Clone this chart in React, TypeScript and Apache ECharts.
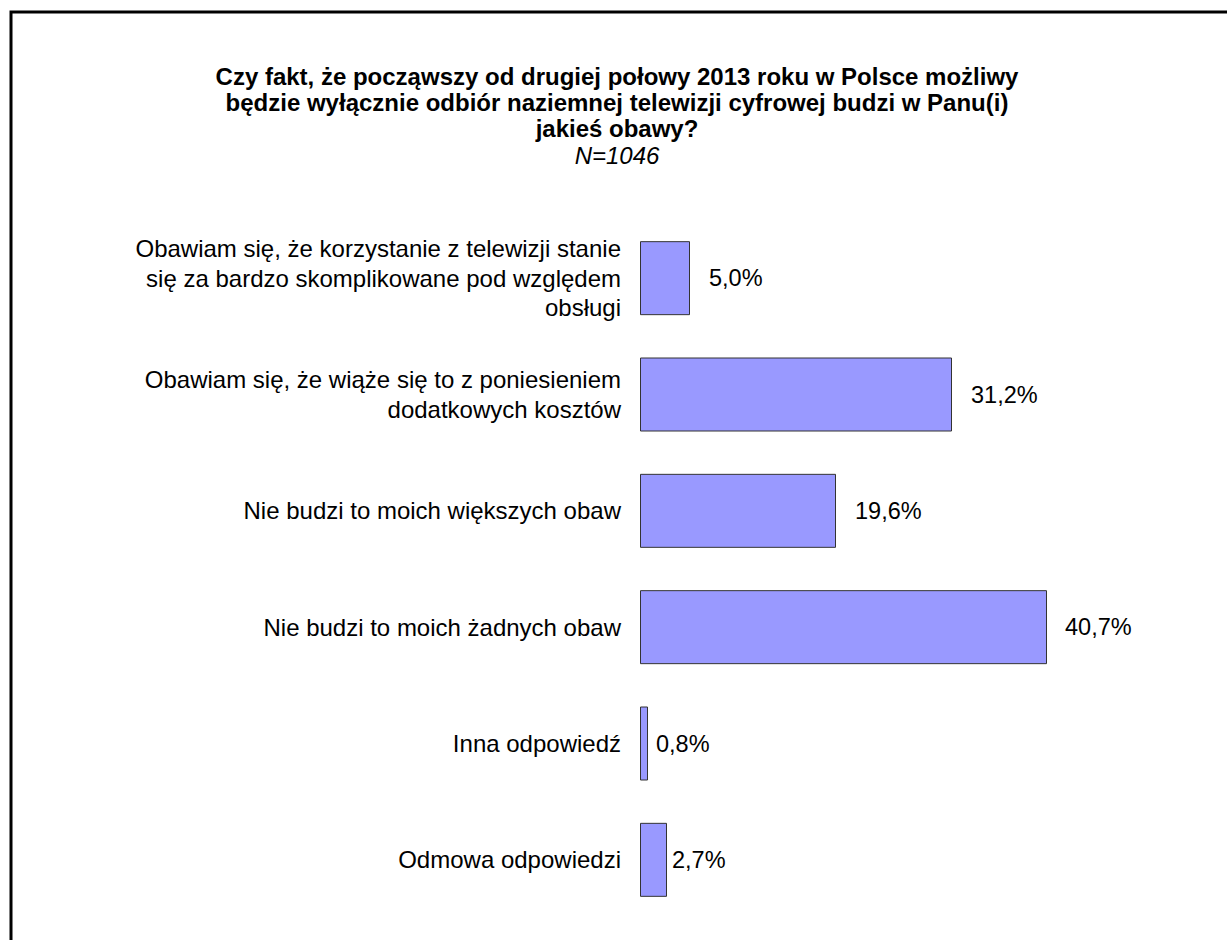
import React, { useEffect, useRef } from "react";
import * as echarts from "echarts";

const categories: string[] = [
  "Obawiam się, że korzystanie z telewizji stanie\nsię za bardzo skomplikowane pod względem\nobsługi",
  "Obawiam się, że wiąże się to z poniesieniem\ndodatkowych kosztów",
  "Nie budzi to moich większych obaw",
  "Nie budzi to moich żadnych obaw",
  "Inna odpowiedź",
  "Odmowa odpowiedzi",
];
const values: number[] = [5.0, 31.2, 19.6, 40.7, 0.8, 2.7];
const labelGaps: number[] = [19, 19, 19, 18, 8, 5];

const titleText =
  "Czy fakt, że począwszy od drugiej połowy 2013 roku w Polsce możliwy\nbędzie wyłącznie odbiór naziemnej telewizji cyfrowej budzi w Panu(i)\njakieś obawy?";
const subText = "N=1046";

export default function App() {
  const ref = useRef<HTMLDivElement>(null);
  useEffect(() => {
    document.body.style.margin = "0";
    const chart = echarts.init(ref.current!, null, { renderer: "svg" });
    chart.setOption({
      animation: false,
      backgroundColor: "#ffffff",
      textStyle: { fontFamily: "Liberation Sans, Arial, sans-serif" },
      title: {
        text: titleText,
        subtext: subText,
        left: 612,
        textAlign: "center",
        top: 58,
        itemGap: 1,
        textStyle: {
          fontSize: 24,
          fontWeight: "bold",
          color: "#000",
          lineHeight: 26,
          fontFamily: "Liberation Sans, Arial, sans-serif",
        },
        subtextStyle: {
          fontSize: 24,
          fontStyle: "italic",
          color: "#000",
          lineHeight: 26,
          fontFamily: "Liberation Sans, Arial, sans-serif",
        },
      },
      graphic: [
        {
          type: "rect",
          shape: { x: 11, y: 12, width: 1240, height: 1000 },
          style: { fill: "none", stroke: "#000", lineWidth: 3 },
          silent: true,
        },
      ],
      grid: { left: 640, width: 500, top: 220, height: 698 },
      xAxis: {
        type: "value",
        min: 0,
        max: 50,
        show: false,
      },
      yAxis: {
        type: "category",
        inverse: true,
        data: categories,
        axisLine: { show: false },
        axisTick: { show: false },
        splitLine: { show: false },
        axisLabel: {
          fontSize: 24,
          color: "#000",
          lineHeight: 29.5,
          align: "right",
          margin: 19,
          fontFamily: "Liberation Sans, Arial, sans-serif",
        },
      },
      series: [
        {
          type: "bar",
          barWidth: 74,
          data: values.map((v, i) => ({
            value: v,
            label: { distance: labelGaps[i] },
          })),
          itemStyle: { color: "#9999FF", borderColor: "#333333", borderWidth: 1 },
          label: {
            show: true,
            position: "right",
            fontSize: 23.5,
            color: "#000",
            fontFamily: "Liberation Sans, Arial, sans-serif",
            formatter: (p: any) => p.value.toFixed(1).replace(".", ",") + "%",
          },
        },
      ],
    });
    return () => chart.dispose();
  }, []);
  return (
    <div
      ref={ref}
      style={{ position: "fixed", left: 0, top: 0, width: 1227, height: 940 }}
    />
  );
}
